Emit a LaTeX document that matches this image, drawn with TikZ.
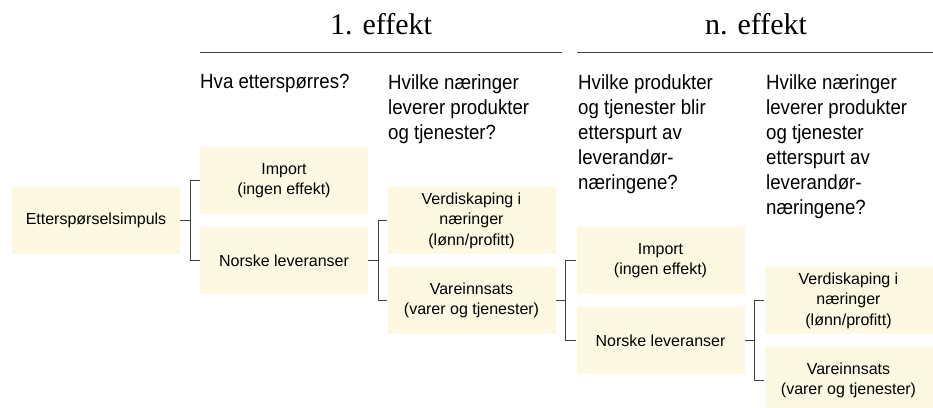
\documentclass[tikz,border=0pt]{standalone}
\usepackage{fontspec}
\setmainfont{Liberation Sans}
\newfontfamily\askfont{Liberation Sans}[FakeStretch=0.91]
\newfontfamily\headfont{Liberation Serif}
\definecolor{boxfill}{RGB}{253,248,225}
\definecolor{linegray}{RGB}{64,64,64}
\newcommand{\fork}[3]{%
	\path (#1.east) ++(10,0) coordinate (#1j);
	\draw[branch] (#1.east) -- (#1j);
	\draw[branch] (#2.west) -| (#1j) |- (#3.west);}

\begin{document}
\begin{tikzpicture}[x=1pt,y=-1pt,
	effbox/.style={fill=boxfill, minimum width=168pt, minimum height=67pt, inner sep=0pt, align=center, font=\fontsize{16}{20.5}\selectfont},
	question/.style={anchor=north west, align=left, inner sep=0pt, font=\askfont\fontsize{20.5}{25}\selectfont},
	effhead/.style={anchor=base, inner sep=0pt, font=\headfont\fontsize{30}{36}\selectfont},
	branch/.style={draw=linegray, line width=1pt}]
	\useasboundingbox (0,0) rectangle (933,407);
	\node[effhead] (h1) at (381,34) {1. effekt};
	\node[effhead] (hn) at (756,34) {n. effekt};
	\draw[linegray, line width=1pt] (200,52) -- (562,52);
	\draw[linegray, line width=1pt] (577,52) -- (933,52);
	\node[question] (q1) at (200,74) {Hva etterspørres?};
	\node[question] (q2) at (388,74) {Hvilke næringer\\leverer produkter\\og tjenester?};
	\node[question] (q3) at (578,74) {Hvilke produkter\\og tjenester blir\\etterspurt av\\leverandør-\\næringene?};
	\node[question] (q4) at (766,74) {Hvilke næringer\\leverer produkter\\og tjenester\\etterspurt av\\leverandør-\\næringene?};
	\node[effbox] (impuls) at (96,220.5) {Etterspørselsimpuls};
	\node[effbox] (imp1) at (284,180.5) {Import\\(ingen effekt)};
	\node[effbox] (nor1) at (284,260.5) {Norske leveranser};
	\node[effbox] (ver1) at (471.5,220.5) {Verdiskaping i\\næringer\\(lønn/profitt)};
	\node[effbox] (var1) at (471.5,300.5) {Vareinnsats\\(varer og tjenester)};
	\node[effbox] (imp2) at (660.5,260.5) {Import\\(ingen effekt)};
	\node[effbox] (nor2) at (660.5,340.5) {Norske leveranser};
	\node[effbox] (ver2) at (848.5,300.5) {Verdiskaping i\\næringer\\(lønn/profitt)};
	\node[effbox] (var2) at (848.5,380.5) {Vareinnsats\\(varer og tjenester)};
	\fork{impuls}{imp1}{nor1}
	\fork{nor1}{ver1}{var1}
	\fork{var1}{imp2}{nor2}
	\fork{nor2}{ver2}{var2}
\end{tikzpicture}
\end{document}
